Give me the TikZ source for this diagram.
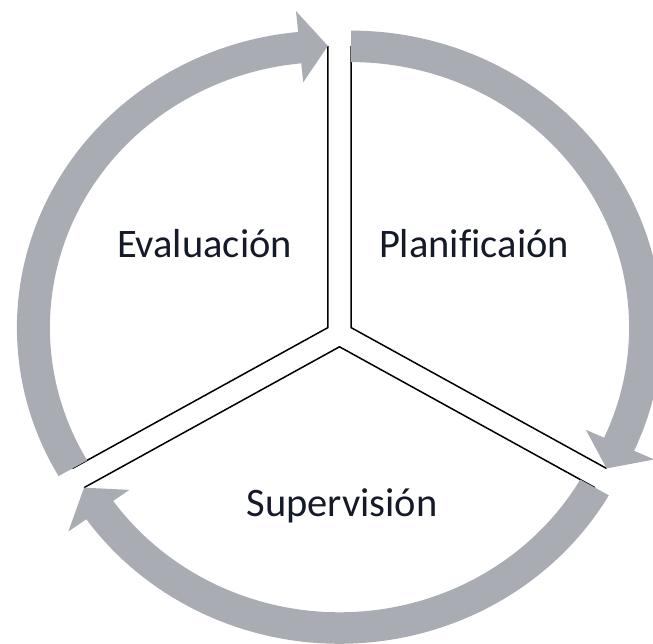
\documentclass[tikz,border=0pt]{standalone}
\usepackage{fontspec}
\setmainfont{Carlito}[Ligatures=NoCommon]
\begin{document}
\begin{tikzpicture}[x=1pt,y=1pt,
  band/.style={fill=bandgray},
  edge/.style={draw=black,line width=1.5pt,line join=miter},
  label/.style={font=\fontsize{40.5}{42}\selectfont,text=labelink,anchor=base,inner sep=0pt}]
\definecolor{bandgray}{RGB}{170,172,179}
\definecolor{labelink}{RGB}{20,26,40}
\useasboundingbox (0,0) rectangle (653,643);
% radii: inner band edge, pie edge, outer band edge, arrowhead wings
\def\rin{278}\def\rmid{295}\def\rout{311}\def\rwi{258}\def\rwo{333}
% one segment: #1 = bisector, #2 = tail angle, #3 = arrowhead base angle, #4 = tip angle
\newcommand{\cyclesegment}[4]{%
  \begin{scope}[shift={(#1:13.4)}]
    \draw[edge] (#2:\rmid) -- (0,0) -- (#4:\rmid);
    \fill[band] (#2:\rin) arc[start angle=#2,end angle=#3,radius=\rin]
      -- (#3:\rwi) -- (#4:\rmid) -- (#3:\rwo) -- (#3:\rout)
      arc[start angle=#3,end angle=#2,radius=\rout] -- cycle;
  \end{scope}}
\begin{scope}[shift={(339.5,309)},yscale=0.955]
  \cyclesegment{30}{90}{-24.5}{-30}
  \cyclesegment{270}{330}{215.5}{210}
  \cyclesegment{150}{210}{95.5}{90}
\end{scope}
\node[label] (eval) at (204.5,385) {Evaluación};
\node[label] (plan) at (474,385) {Planificaión};
\node[label] (sup) at (342,127) {Supervisión};
\end{tikzpicture}
\end{document}
